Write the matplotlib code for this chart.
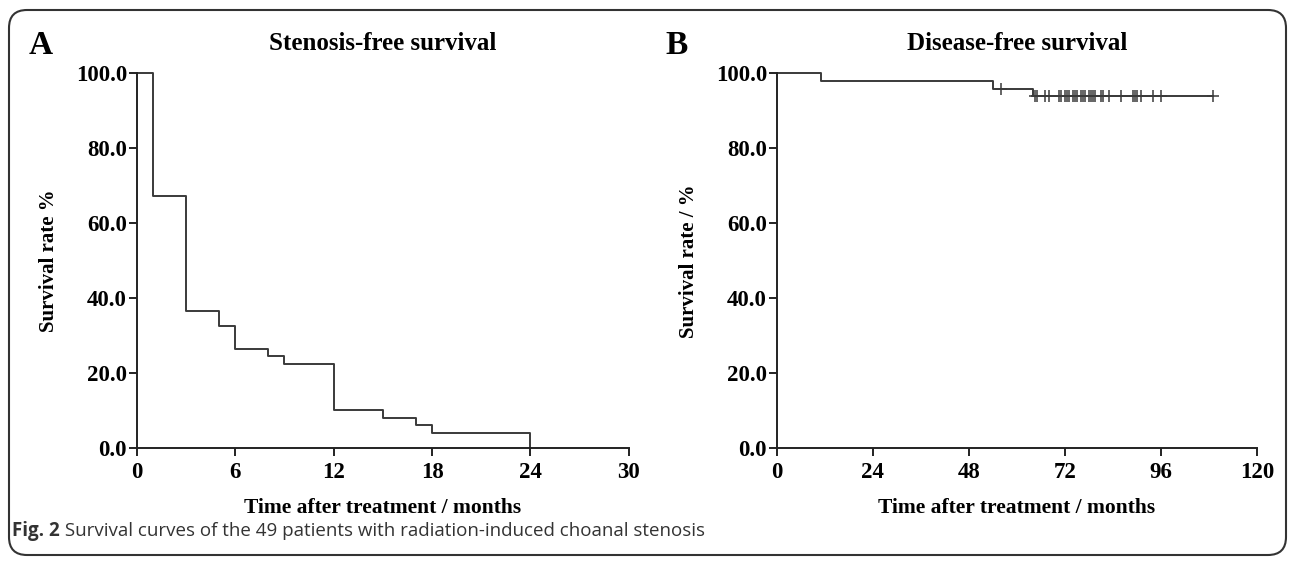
import matplotlib
matplotlib.use('Agg')
import matplotlib.pyplot as plt
from matplotlib.patches import FancyBboxPatch

# Panel A: stenosis-free survival (49 patients)
sten_times = [0, 1, 3, 5, 6, 8, 9, 12, 15, 17, 18, 24]
sten_surv = [100.0, 67.3, 36.7, 32.7, 26.5, 24.5, 22.4, 10.2, 8.2, 6.1, 4.1, 0.0]
sten_end = 24

# Panel B: disease-free survival
dfs_times = [0, 11, 54, 64]
dfs_surv = [100.0, 98.0, 95.9, 93.9]
dfs_end = 109
dfs_censor = [56, 64.5, 65, 67, 68, 70.5, 71, 72, 72.5, 73, 74, 74.5, 75, 76,
              76.5, 77, 78, 78.5, 79, 79.5, 81, 81.5, 83, 86, 89, 89.5, 90, 91,
              94, 96, 109]

yticks = [0, 20, 40, 60, 80, 100]
xticks_a = [0, 6, 12, 18, 24, 30]
xticks_b = [0, 24, 48, 72, 96, 120]

SERIF = 'Liberation Serif'
LINE = '#3a3a3a'


def step_xy(times, surv, end):
    xs, ys = [], []
    for i, (t, s) in enumerate(zip(times, surv)):
        nxt = times[i + 1] if i + 1 < len(times) else end
        xs += [t, nxt]
        ys += [s, s]
    return xs, ys


def surv_at(t, times, surv):
    val = surv[0]
    for tt, s in zip(times, surv):
        if tt <= t:
            val = s
    return val


def style_axes(ax, xticks, ylabel):
    ax.set_ylim(0, 100)
    ax.set_xlim(xticks[0], xticks[-1])
    ax.set_xticks(xticks)
    ax.set_yticks(yticks)
    ax.set_yticklabels([f'{v:.1f}' for v in yticks])
    for s in ['top', 'right']:
        ax.spines[s].set_visible(False)
    for s in ['left', 'bottom']:
        ax.spines[s].set_linewidth(1.4)
        ax.spines[s].set_color('#222222')
    ax.tick_params(direction='out', length=6, width=1.4, color='#222222',
                   labelsize=16.5, pad=1)
    ax.tick_params(axis='x', pad=4)
    for lab in ax.get_xticklabels() + ax.get_yticklabels():
        lab.set_fontfamily(SERIF)
        lab.set_fontweight('bold')
    ax.set_xlabel('Time after treatment / months', fontsize=15.5, fontfamily=SERIF,
                  fontweight='bold', labelpad=11)
    ax.set_ylabel(ylabel, fontsize=15, fontfamily=SERIF, fontweight='bold', labelpad=12)


fig = plt.figure(figsize=(12.95, 5.63), dpi=100)

# outer rounded frame and caption
bg = fig.add_axes([0, 0, 1, 1])
bg.set_xlim(0, 1295)
bg.set_ylim(563, 0)
bg.axis('off')
bg.add_patch(FancyBboxPatch((9, 10), 1277, 545,
                            boxstyle='round,pad=0,rounding_size=18',
                            fill=False, edgecolor='#333333', linewidth=1.5))
t1 = bg.text(12, 531, 'Fig. 2', fontsize=13.5, fontweight='bold',
             fontfamily='Open Sans', color='#333333', va='center')
bg.annotate(' Survival curves of the 49 patients with radiation-induced choanal stenosis',
            xy=(1, 0.5), xycoords=t1, va='center', ha='left', fontsize=13.5,
            fontfamily='Open Sans', color='#333333')
bg.text(29, 45, 'A', fontsize=24, fontweight='bold', fontfamily=SERIF, va='center')
bg.text(665, 45, 'B', fontsize=24, fontweight='bold', fontfamily=SERIF, va='center')

# Panel A
ax1 = fig.add_axes([0.1056, 0.2037, 0.38, 0.666])
xs, ys = step_xy(sten_times, sten_surv, sten_end)
xs.append(sten_end)
ys.append(0)
ax1.plot(xs, ys, color=LINE, lw=1.4, clip_on=False)
style_axes(ax1, xticks_a, 'Survival rate %')
ax1.set_title('Stenosis-free survival', fontsize=18, fontfamily=SERIF,
              fontweight='bold', pad=17)

# Panel B
ax2 = fig.add_axes([0.5998, 0.2037, 0.3707, 0.666])
xs, ys = step_xy(dfs_times, dfs_surv, dfs_end)
ax2.plot(xs, ys, color=LINE, lw=1.4, clip_on=False)
cy = [surv_at(t, dfs_times, dfs_surv) for t in dfs_censor]
ax2.plot(dfs_censor, cy, linestyle='none', marker='+', markersize=8,
         markeredgewidth=1.1, color=LINE, clip_on=False)
style_axes(ax2, xticks_b, 'Survival rate / %')
ax2.set_title('Disease-free survival', fontsize=18, fontfamily=SERIF,
              fontweight='bold', pad=17)

fig.savefig('out.png', dpi=100)
